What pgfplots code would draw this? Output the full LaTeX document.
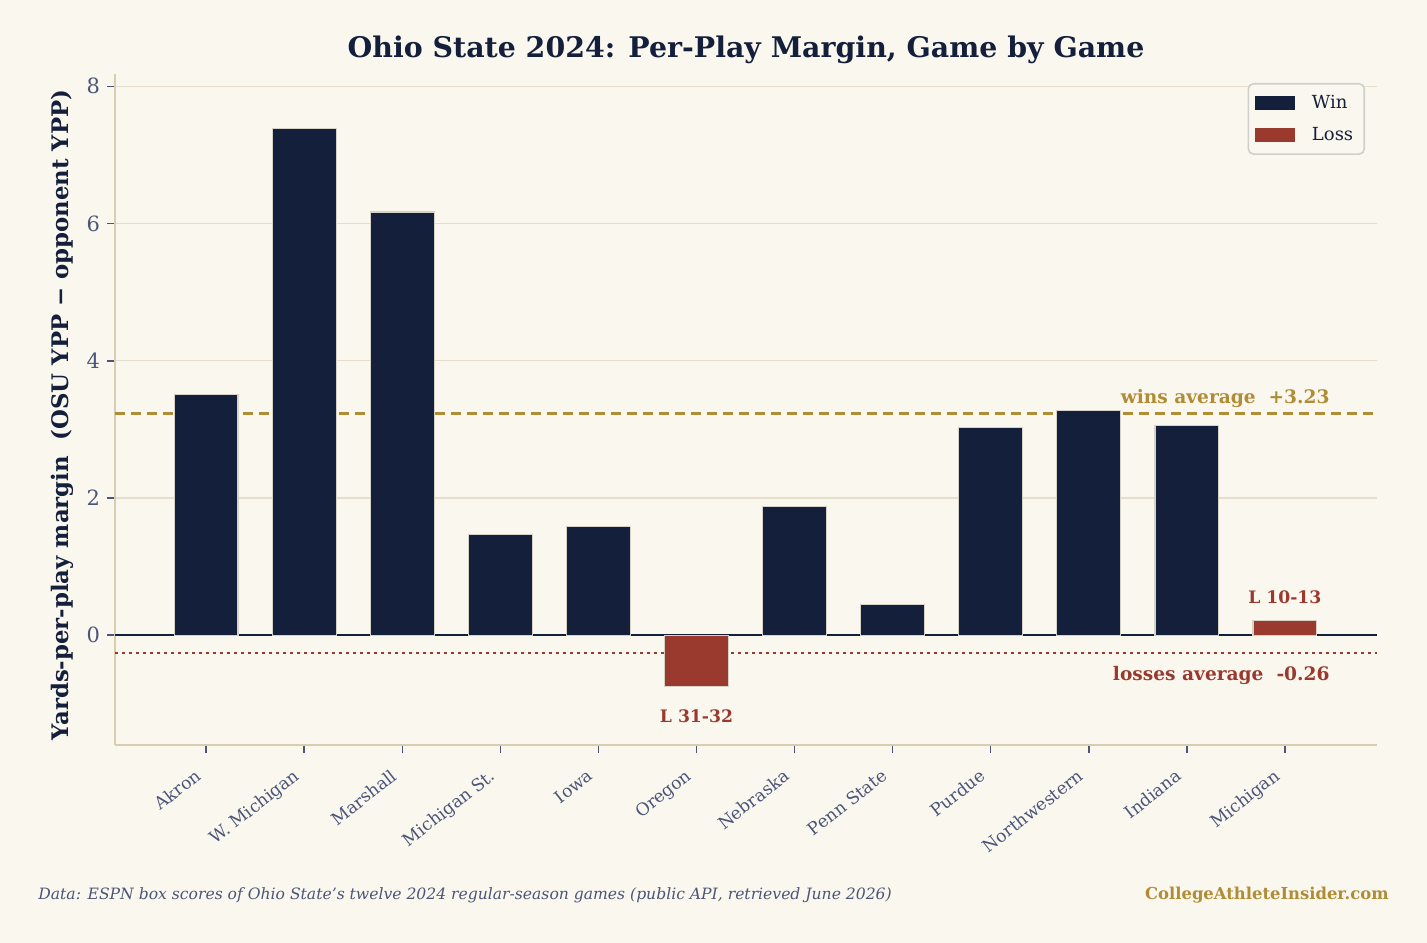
\documentclass[border=0pt]{standalone}
\usepackage{fontspec}
\setmainfont{DejaVu Serif}
\usepackage{pgfplots}
\pgfplotsset{compat=1.18}
\definecolor{bg}{HTML}{FAF7EF}
\definecolor{navy}{HTML}{14203B}
\definecolor{lossred}{HTML}{9A3A2E}
\definecolor{gold}{HTML}{B08C35}
\definecolor{slate}{HTML}{4B5578}
\definecolor{gridc}{HTML}{E6DEC9}
\definecolor{spine}{HTML}{D9CDB0}
\definecolor{edge}{HTML}{D6D2C8}
\definecolor{legedge}{HTML}{CFCFCB}
\pgfplotsset{barleg/.style={legend image code/.code={\fill[##1,draw=none,sharp corners] (0bp,-3.5bp) rectangle (20bp,3.5bp); \path (26bp,0bp);}}}
\begin{document}
\begin{tikzpicture}
\fill[bg] (0,0) rectangle (713.5bp,471.5bp);
\useasboundingbox (0,0) rectangle (713.5bp,471.5bp);
\begin{axis}[
  at={(57.5bp,99bp)}, anchor=south west,
  width=631bp, height=335.5bp, scale only axis,
  xmin=-0.93, xmax=11.94, ymin=-1.6, ymax=8.18,
  axis x line*=bottom, axis y line*=left,
  axis line style={spine, line width=1bp, -},
  xtick={0,...,11},
  xticklabels={Akron, W. Michigan, Marshall, Michigan St., Iowa, Oregon, Nebraska, Penn State, Purdue, Northwestern, Indiana, Michigan},
  x tick label style={rotate=38, anchor=north east, font=\fontsize{8.6bp}{10bp}\selectfont, text=slate, inner sep=1.5bp, xshift=-7.8bp, yshift=-0.6bp},
  ytick={0,2,4,6,8},
  y tick label style={font=\fontsize{10.5bp}{12bp}\selectfont, text=slate},
  /pgf/number format/assume math mode=true,
  tick style={slate, line width=0.8bp},
  major tick length=4bp,
  tick align=outside,
  ymajorgrids, grid style={gridc, line width=0.7bp},
  legend style={at={(1,1)}, anchor=north east, xshift=-6bp, yshift=-4.5bp, draw=legedge, line width=0.8bp, rounded corners=2.5bp, fill=bg, font=\fontsize{9bp}{11bp}\selectfont, text=navy, inner xsep=3.5bp, inner ysep=3.5bp, row sep=4bp},
  legend cell align=left,
]
\addplot[gold, line width=1.4bp, dash pattern=on 5bp off 3bp, forget plot] coordinates {(-0.93,3.23) (11.94,3.23)};
\addplot[lossred, line width=1.2bp, dash pattern=on 1.3bp off 2.2bp, forget plot] coordinates {(-0.93,-0.26) (11.94,-0.26)};
\addplot[navy, line width=1.2bp, forget plot] coordinates {(-0.93,0) (11.94,0)};
\addplot[ybar, bar width=0.65, bar shift=0pt, fill=navy, draw=edge, line width=0.6bp, barleg] coordinates {
(0,3.51) (1,7.38) (2,6.17) (3,1.47) (4,1.59) (6,1.88) (7,0.45) (8,3.03) (9,3.28) (10,3.06)};
\addlegendentry{Win}
\addplot[ybar, bar width=0.65, bar shift=0pt, fill=lossred, draw=edge, line width=0.6bp, barleg] coordinates {
(5,-0.75) (11,0.21)};
\addlegendentry{Loss}
\node[anchor=east, font=\bfseries\fontsize{9.3bp}{11bp}\selectfont, text=gold, inner sep=0pt] at (axis cs:11.46,3.45) {wins average\ \ +3.23};
\node[anchor=east, font=\bfseries\fontsize{9.3bp}{11bp}\selectfont, text=lossred, inner sep=0pt] at (axis cs:11.46,-0.58) {losses average\ \ -0.26};
\node[font=\bfseries\fontsize{8.6bp}{10bp}\selectfont, text=lossred] at (axis cs:5,-1.18) {L 31-32};
\node[font=\bfseries\fontsize{8.6bp}{10bp}\selectfont, text=lossred] at (axis cs:11,0.55) {L 10-13};
\end{axis}
\node[font=\bfseries\fontsize{14.2bp}{17bp}\selectfont, text=navy] at (373bp,446.5bp) {Ohio State 2024: Per-Play Margin, Game by Game};
\node[rotate=90, font=\bfseries\fontsize{11.4bp}{13bp}\selectfont, text=navy] at (31bp,264bp) {Yards-per-play margin\ \ (OSU YPP − opponent YPP)};
\node[anchor=west, font=\itshape\fontsize{7.8bp}{9bp}\selectfont, text=slate, inner sep=0pt] at (19bp,24bp) {Data: ESPN box scores of Ohio State's twelve 2024 regular-season games (public API, retrieved June 2026)};
\node[anchor=east, font=\bfseries\fontsize{8.2bp}{10bp}\selectfont, text=gold, inner sep=0pt] at (694.5bp,24bp) {CollegeAthleteInsider.com};
\end{tikzpicture}
\end{document}
